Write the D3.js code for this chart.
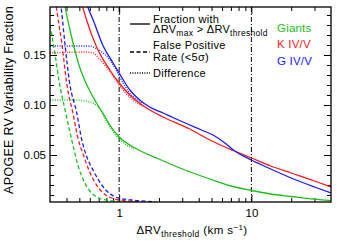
<!DOCTYPE html>
<html>
<head>
<meta charset="utf-8">
<script src="https://cdn.jsdelivr.net/npm/d3@7"></script>
<style>
body { margin: 0; background: #fff; }
text { font-family: "Liberation Sans", Arial, sans-serif; fill: #000; }
</style>
</head>
<body>
<div id="chart"></div>
<script>
// values: [threshold (km/s), fraction]
const giantsFrac = [[0.3,0.28],[0.35,0.235],[0.39,0.198],[0.43,0.172],[0.466,0.153],[0.505,0.137],[0.54,0.127],[0.6,0.114],[0.675,0.102],[0.8,0.086],[0.85,0.080],[1.0,0.068],[1.32,0.057],[2.0,0.046],[2.88,0.037],[4.85,0.026],[7,0.019],[10,0.0145],[14,0.011],[20,0.0085],[30,0.0058],[40,0.0043]];
const kFrac = [[0.3,0.36],[0.4,0.265],[0.47,0.222],[0.53,0.198],[0.567,0.185],[0.675,0.158],[0.85,0.135],[1.0,0.122],[1.205,0.110],[1.61,0.097],[2.15,0.088],[3.42,0.076],[4.86,0.065],[6.3,0.058],[7.3,0.0545],[10,0.047],[14,0.039],[20,0.032],[30,0.024],[40,0.018]];
const gFrac = [[0.3,0.40],[0.45,0.262],[0.58,0.198],[0.636,0.185],[0.757,0.159],[0.9,0.142],[1.0,0.132],[1.205,0.115],[1.43,0.105],[1.7,0.098],[2.15,0.092],[2.7,0.086],[3.42,0.080],[4.2,0.075],[5.13,0.070],[6.3,0.062],[7.3,0.055],[10,0.045],[14,0.036],[20,0.027],[30,0.018],[40,0.012]];

const giantsFalse = [[0.3,0.18],[0.33,0.148],[0.35,0.125],[0.39,0.095],[0.44,0.064],[0.49,0.039],[0.55,0.022],[0.6,0.014],[0.7,0.007],[0.8,0.005],[1.0,0.0037],[1.3,0.003]];
const kFalse = [[0.3,0.25],[0.335,0.198],[0.37,0.16],[0.40,0.123],[0.45,0.09],[0.49,0.066],[0.54,0.049],[0.59,0.035],[0.7,0.017],[0.8,0.0095],[0.9,0.0065],[1.1,0.0045],[1.5,0.0034]];
const gFalse = [[0.3,0.28],[0.33,0.235],[0.364,0.198],[0.39,0.16],[0.42,0.124],[0.48,0.091],[0.52,0.066],[0.57,0.048],[0.64,0.034],[0.78,0.016],[0.96,0.0075],[1.25,0.005],[1.6,0.0038],[1.9,0.003]];

const giantsDiff = [[0.3,0.105],[0.45,0.105],[0.55,0.104],[0.63,0.102],[0.715,0.096],[0.8,0.084],[1.0,0.066],[1.3,0.056]];
const kDiff = [[0.3,0.152],[0.55,0.153],[0.636,0.152],[0.7,0.147],[0.8,0.138],[0.9,0.129],[1.0,0.12],[1.2,0.108],[1.5,0.099]];
const gDiff = [[0.3,0.159],[0.6,0.159],[0.66,0.157],[0.757,0.152],[0.85,0.145],[0.93,0.137],[1.0,0.129],[1.2,0.112],[1.5,0.102]];

const groups = ["Giants", "K IV/V", "G IV/V"];
const groupColors = ["#1cc01c", "#ff1a1a", "#1a1aff"];

const xMajor = [1, 10];
const xMinor = [0.4,0.5,0.6,0.7,0.8,0.9,2,3,4,5,6,7,8,9,20,30];
const yMajor = [0.05, 0.10, 0.15];
const yMinor = d3.range(1, 20).map(i => i / 100);

const margin = { top: 7, right: 8, bottom: 41, left: 50 },
    width = 339 - margin.left - margin.right,
    height = 243 - margin.top - margin.bottom;

const svg = d3.select("#chart").append("svg")
    .attr("width", 339)
    .attr("height", 243);
const canvas = svg.append("g")
    .attr("transform", "translate(" + margin.left + "," + margin.top + ")");

const xScale = d3.scaleLog().domain([0.3, 40]).range([0, width]);
const yScale = d3.scaleLinear().domain([0.003, 0.198]).range([height, 0]);

canvas.append("clipPath").attr("id", "clip")
    .append("rect").attr("width", width).attr("height", height);

// axes: ticks point inward on all four sides
function styleAxis(g) {
    g.select(".domain").remove();
    g.selectAll("line").attr("stroke", "#000");
    g.selectAll("text").style("font-size", "11.5px").attr("fill", "#000");
}
canvas.append("g").attr("transform", "translate(0," + height + ")")
    .call(d3.axisBottom(xScale).tickValues(xMajor).tickSizeInner(-7).tickPadding(7).tickFormat(d3.format("d")))
    .call(styleAxis);
canvas.append("g").attr("transform", "translate(0," + height + ")")
    .call(d3.axisBottom(xScale).tickValues(xMinor).tickSizeInner(-4).tickFormat(""))
    .call(styleAxis);
canvas.append("g")
    .call(d3.axisTop(xScale).tickValues(xMajor).tickSizeInner(-7).tickFormat(""))
    .call(styleAxis);
canvas.append("g")
    .call(d3.axisTop(xScale).tickValues(xMinor).tickSizeInner(-4).tickFormat(""))
    .call(styleAxis);
canvas.append("g")
    .call(d3.axisLeft(yScale).tickValues(yMajor).tickSizeInner(-7).tickPadding(4).tickFormat(d3.format(".2f")))
    .call(styleAxis);
canvas.append("g")
    .call(d3.axisLeft(yScale).tickValues(yMinor).tickSizeInner(-4).tickFormat(""))
    .call(styleAxis);
canvas.append("g").attr("transform", "translate(" + width + ",0)")
    .call(d3.axisRight(yScale).tickValues(yMajor).tickSizeInner(-7).tickFormat(""))
    .call(styleAxis);
canvas.append("g").attr("transform", "translate(" + width + ",0)")
    .call(d3.axisRight(yScale).tickValues(yMinor).tickSizeInner(-4).tickFormat(""))
    .call(styleAxis);

// dash-dot markers at 1 and 10 km/s
canvas.selectAll(".vmark")
    .data(xMajor)
    .enter().append("line")
    .attr("class", "vmark")
    .attr("x1", d => xScale(d)).attr("x2", d => xScale(d))
    .attr("y1", 0).attr("y2", height)
    .attr("stroke", "#000").attr("stroke-width", 1)
    .attr("stroke-dasharray", "5,2,1,2");

const line = d3.line()
    .x(d => xScale(d[0]))
    .y(d => yScale(d[1]))
    .curve(d3.curveMonotoneX);

const series = [
    { data: giantsDiff, color: groupColors[0], dash: "1,1.4" },
    { data: kDiff, color: groupColors[1], dash: "1,1.4" },
    { data: gDiff, color: groupColors[2], dash: "1,1.4" },
    { data: giantsFalse, color: groupColors[0], dash: "4,2.5" },
    { data: kFalse, color: groupColors[1], dash: "4,2.5" },
    { data: gFalse, color: groupColors[2], dash: "4,2.5" },
    { data: giantsFrac, color: groupColors[0], dash: null },
    { data: kFrac, color: groupColors[1], dash: null },
    { data: gFrac, color: groupColors[2], dash: null }
];

canvas.append("g").attr("clip-path", "url(#clip)")
    .selectAll("path")
    .data(series)
    .enter().append("path")
    .attr("d", d => line(d.data))
    .attr("fill", "none")
    .attr("stroke", d => d.color)
    .attr("stroke-width", 1.3)
    .attr("stroke-dasharray", d => d.dash);

// frame
canvas.append("rect")
    .attr("width", width).attr("height", height)
    .attr("fill", "none").attr("stroke", "#000").attr("stroke-width", 1.3);

// line-style legend
const styleLegend = canvas.append("g").attr("transform", "translate(80,0)");
[[17, null], [45, "4,2.5"], [66, "1,1.4"]].forEach(function (s) {
    styleLegend.append("line")
        .attr("x1", 0).attr("x2", 20).attr("y1", s[0]).attr("y2", s[0])
        .attr("stroke", "#000").attr("stroke-width", 1.3)
        .attr("stroke-dasharray", s[1]);
});
const lt = styleLegend.append("g").style("font-size", "11px").style("letter-spacing", "0.3px");
lt.append("text").attr("x", 23).attr("y", 15.5).text("Fraction with");
const l2 = lt.append("text").attr("x", 23).attr("y", 26);
l2.append("tspan").text("ΔRV");
l2.append("tspan").attr("dy", 2.5).style("font-size", "8.5px").text("max");
l2.append("tspan").attr("dy", -2.5).text(" > ΔRV");
l2.append("tspan").attr("dy", 2.5).style("font-size", "8.5px").text("threshold");
lt.append("text").attr("x", 23).attr("y", 42).text("False Positive");
lt.append("text").attr("x", 23).attr("y", 53.5).text("Rate (<5σ)");
lt.append("text").attr("x", 23).attr("y", 69.5).text("Difference");

// group legend
canvas.selectAll(".legend")
    .data(groups)
    .enter().append("text")
    .attr("class", "legend")
    .attr("x", 227)
    .attr("y", (d, i) => 25 + i * 16.3)
    .style("font-size", "11.5px")
    .style("letter-spacing", "0.2px")
    .style("fill", (d, i) => groupColors[i])
    .text(d => d);

// axis titles
svg.append("text")
    .attr("transform", "translate(12.5,100) rotate(-90)")
    .attr("text-anchor", "middle")
    .style("font-size", "12.5px")
    .style("letter-spacing", "0.3px")
    .text("APOGEE RV Variability Fraction");

const xt = svg.append("text").attr("x", 136.5).attr("y", 234)
    .style("font-size", "11.5px").style("letter-spacing", "0.4px");
xt.append("tspan").text("ΔRV");
xt.append("tspan").attr("dy", 2.5).style("font-size", "8.5px").text("threshold");
xt.append("tspan").attr("dy", -2.5).text("  (km s");
xt.append("tspan").attr("dy", -4).style("font-size", "8px").text("−1");
xt.append("tspan").attr("dy", 4).text(")");
</script>
</body>
</html>
